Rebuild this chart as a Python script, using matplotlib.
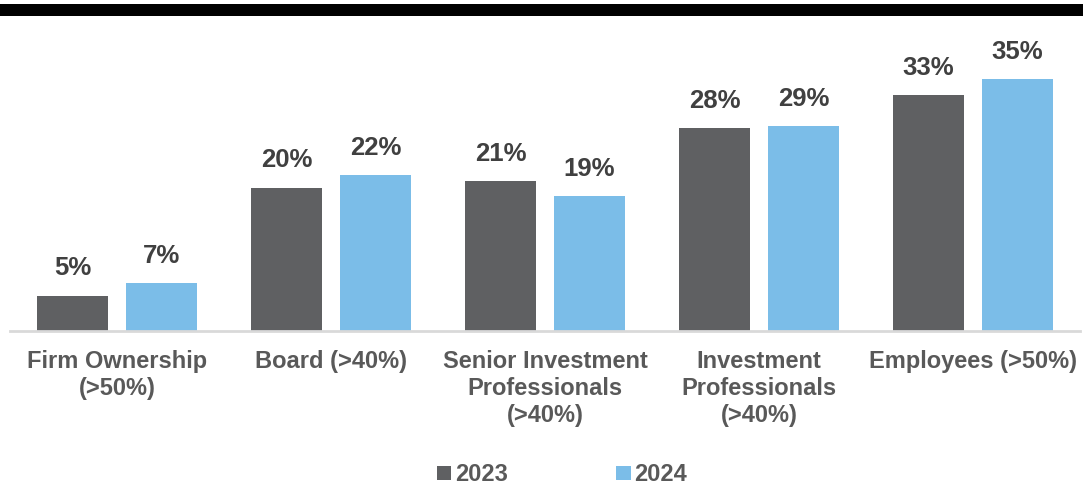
import numpy as np
import matplotlib.pyplot as plt
from matplotlib.patches import Rectangle

plt.rcParams['font.family'] = ['Liberation Sans', 'DejaVu Sans']

categories = ['Firm Ownership\n(>50%)', 'Board (>40%)',
              'Senior Investment\nProfessionals\n(>40%)',
              'Investment\nProfessionals\n(>40%)', 'Employees (>50%)']
vals_2023 = [4.9, 19.9, 20.8, 28.2, 32.8]
vals_2024 = [6.6, 21.6, 18.7, 28.5, 35.0]
series_names = ['2023', '2024']

dark = '#5f6062'
blue = '#7bbde8'
txt = '#595959'

fig = plt.figure(figsize=(10.83, 4.86), dpi=100)
ax = fig.add_axes([10/1083, 1-331/486, 1070/1083, 288/486])

x = np.arange(len(categories))
w = 0.332
off = 0.208
b1 = ax.bar(x - off, vals_2023, w, color=dark, label=series_names[0])
b2 = ax.bar(x + off, vals_2024, w, color=blue, label=series_names[1])

for bars, vals in [(b1, vals_2023), (b2, vals_2024)]:
    for b, v in zip(bars, vals):
        ax.annotate(f'{int(v + 0.5):d}%', (b.get_x() + b.get_width()/2, v),
                    xytext=(0, 11), textcoords='offset points',
                    ha='center', va='bottom', fontsize=18.5,
                    fontweight='bold', color='#404040')

ax.set_xlim(-0.5, 4.5)
ax.set_ylim(0, 40)
ax.set_xticks(x)
ax.set_xticklabels(categories, fontsize=17, fontweight='bold', color=txt,
                   linespacing=1.22)
ax.tick_params(axis='x', length=0, pad=14)
ax.set_yticks([])
for s in ['top', 'right', 'left']:
    ax.spines[s].set_visible(False)
ax.spines['bottom'].set_color('#d9d9d9')
ax.spines['bottom'].set_linewidth(2)
ax.spines['bottom'].set_bounds(-0.5, 4.5)

# black band across the top
fig.add_artist(Rectangle((0, 1-16/486), 1, 12/486, transform=fig.transFigure,
                         color='black', lw=0))

leg = fig.legend(handles=[b1, b2], loc='center', bbox_to_anchor=(0.519, 0.023),
                 ncol=2, frameon=False, handlelength=0.6, handleheight=0.6,
                 handletextpad=0.15, columnspacing=4.6,
                 prop={'size': 17, 'weight': 'bold'})
for t in leg.get_texts():
    t.set_color(txt)

fig.savefig('out.png', dpi=100)
